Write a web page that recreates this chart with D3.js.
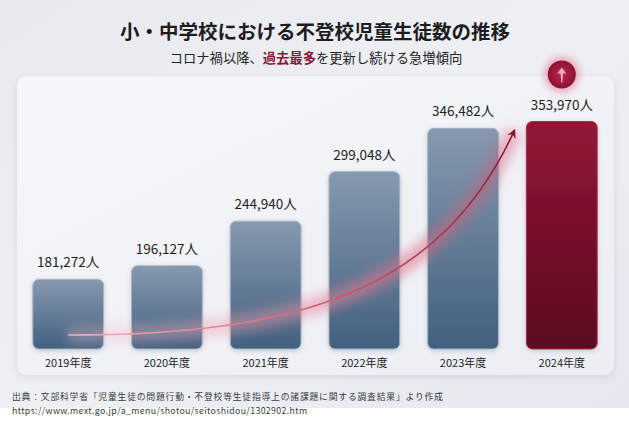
<!DOCTYPE html>
<html><head><meta charset="utf-8">
<script src="https://cdn.jsdelivr.net/npm/d3@7"></script>
<style>
html,body{margin:0;padding:0;background:#fff;}
svg{display:block;}
text{font-family:"Noto Sans CJK JP","Noto Sans",Roboto,sans-serif;}
</style></head>
<body><svg id="c" width="629" height="422"></svg>
<script>
const categories = ["2019年度","2020年度","2021年度","2022年度","2023年度","2024年度"];
const values = [181272,196127,244940,299048,346482,353970];
const valueLabels = ["181,272人","196,127人","244,940人","299,048人","346,482人","353,970人"];
const title = "小・中学校における不登校児童生徒数の推移";
const subtitleParts = [["コロナ禍以降、",false],["過去最多",true],["を更新し続ける急増傾向",false]];
const sourceLines = ["出典：文部科学省「児童生徒の問題行動・不登校等生徒指導上の諸課題に関する調査結果」より作成",
  "https://www.mext.go.jp/a_menu/shotou/seitoshidou/1302902.htm"];

const W=629,H=422;
const svg=d3.select("#c");
const defs=svg.append("defs");

// background gradient
const bg=defs.append("linearGradient").attr("id","bg").attr("x1",0).attr("y1",0).attr("x2",1).attr("y2",1);
bg.append("stop").attr("offset","0%").attr("stop-color","#e9e9ee");
bg.append("stop").attr("offset","50%").attr("stop-color","#eef0f4");
bg.append("stop").attr("offset","100%").attr("stop-color","#e4e7ee");
svg.append("rect").attr("width",W).attr("height",H).attr("fill","url(#bg)");
svg.append("rect").attr("x",0).attr("y",408).attr("width",W).attr("height",H-408).attr("fill","#ffffff");

// panel
const shadow=defs.append("filter").attr("id","sh").attr("x","-10%").attr("y","-10%").attr("width","120%").attr("height","130%");
shadow.append("feDropShadow").attr("dx",0).attr("dy",2).attr("stdDeviation",3).attr("flood-color","#8890a0").attr("flood-opacity",0.25);
const pg=defs.append("linearGradient").attr("id","pg").attr("x1",0).attr("y1",0).attr("x2",1).attr("y2",1);
pg.append("stop").attr("offset","0%").attr("stop-color","#f7f7fa");
pg.append("stop").attr("offset","100%").attr("stop-color","#eceef4");
svg.append("rect").attr("x",17).attr("y",76).attr("width",597).attr("height",299).attr("rx",9)
  .attr("fill","url(#pg)").attr("filter","url(#sh)");

// title
svg.append("text").attr("x",315).attr("y",39).attr("text-anchor","middle")
  .attr("font-size",19.5).attr("font-weight",700).attr("fill","#1d1d1f").text(title);
const st=svg.append("text").attr("x",316).attr("y",63).attr("text-anchor","middle")
  .attr("font-size",13.3).attr("fill","#222");
subtitleParts.forEach(([t,hl])=>{
  st.append("tspan").text(t).attr("fill",hl?"#8e1538":"#222").attr("font-weight",hl?700:400);
});

// scales
const x=d3.scaleBand().domain(categories).range([18,612]).paddingInner(0.283).paddingOuter(0.15);
const y=d3.scaleLinear().domain([105000,360000]).range([349,116]);
const bw=x.bandwidth();

// gradients for bars
const gb=defs.append("linearGradient").attr("id","gb").attr("x1",0).attr("y1",0).attr("x2",0).attr("y2",1);
gb.append("stop").attr("offset","0%").attr("stop-color","#8799af");
gb.append("stop").attr("offset","100%").attr("stop-color","#42607f");
const gr=defs.append("linearGradient").attr("id","gr").attr("x1",0).attr("y1",0).attr("x2",0).attr("y2",1);
gr.append("stop").attr("offset","0%").attr("stop-color","#931636");
gr.append("stop").attr("offset","100%").attr("stop-color","#5a071f");
const bsh=defs.append("filter").attr("id","bsh").attr("x","-20%").attr("y","-10%").attr("width","140%").attr("height","130%");
bsh.append("feDropShadow").attr("dx",0).attr("dy",1.5).attr("stdDeviation",2).attr("flood-color","#40506a").attr("flood-opacity",0.25);

const last=categories.length-1;
svg.append("g").selectAll("rect").data(values).join("rect")
  .attr("x",(d,i)=>x(categories[i])).attr("y",d=>y(d))
  .attr("width",bw).attr("height",d=>y.range()[0]-y(d)).attr("rx",6)
  .attr("fill",(d,i)=>i===last?"url(#gr)":"url(#gb)")
  .attr("stroke",(d,i)=>i===last?"#b02a4c":"#a7b5c6").attr("stroke-width",1)
  .attr("filter","url(#bsh)");

// value labels
svg.append("g").selectAll("text").data(values).join("text")
  .attr("x",(d,i)=>x(categories[i])+bw/2).attr("y",d=>y(d)-12)
  .attr("text-anchor","middle").attr("font-size",13.5).attr("fill","#1e1e1e")
  .attr("font-family","Roboto,'Noto Sans CJK JP',sans-serif")
  .text((d,i)=>valueLabels[i]);

// year labels
svg.append("g").selectAll("text").data(categories).join("text")
  .attr("x",d=>x(d)+bw/2).attr("y",367).attr("text-anchor","middle")
  .attr("font-size",11).attr("fill","#1e1e1e")
  .attr("font-family","Roboto,'Noto Sans CJK JP',sans-serif").text(d=>d);

// trend curve
const x0=x(categories[0])+bw/2, y0=y.range()[0]-14;
const x1=x(categories[last])-12, y1=y(values[last])+9;
const pathD=`M${x0},${y0} C${x0+233},${y0} ${x0+373},${y0-45} ${x1},${y1}`;
const glow=defs.append("filter").attr("id","glow").attr("x","-20%").attr("y","-20%").attr("width","140%").attr("height","140%");
glow.append("feGaussianBlur").attr("stdDeviation",6);
const cg=defs.append("linearGradient").attr("id","cg").attr("gradientUnits","userSpaceOnUse")
  .attr("x1",x0).attr("y1",y0).attr("x2",x1).attr("y2",y1);
cg.append("stop").attr("offset","0%").attr("stop-color","#f0b3bd");
cg.append("stop").attr("offset","55%").attr("stop-color","#c9566e");
cg.append("stop").attr("offset","100%").attr("stop-color","#8d1232");
const gg=defs.append("linearGradient").attr("id","gg").attr("gradientUnits","userSpaceOnUse")
  .attr("x1",x0).attr("y1",y0).attr("x2",x1).attr("y2",y1);
gg.append("stop").attr("offset","0%").attr("stop-color","#f4c4cc").attr("stop-opacity",0.3);
gg.append("stop").attr("offset","60%").attr("stop-color","#e07890").attr("stop-opacity",0.6);
gg.append("stop").attr("offset","100%").attr("stop-color","#d05070").attr("stop-opacity",0.4);
svg.append("path").attr("d",pathD).attr("fill","none").attr("stroke","url(#gg)")
  .attr("stroke-width",18).attr("filter","url(#glow)");
const mk=defs.append("marker").attr("id","ah").attr("viewBox","0 0 10 10").attr("refX",8).attr("refY",5)
  .attr("markerWidth",9).attr("markerHeight",9).attr("markerUnits","userSpaceOnUse").attr("orient","auto");
mk.append("path").attr("d","M0,0 L10,5 L0,10 L3,5 Z").attr("fill","#8d1232");
svg.append("path").attr("d",pathD).attr("fill","none").attr("stroke","url(#cg)")
  .attr("stroke-width",1.6).attr("marker-end","url(#ah)");

// badge above last bar
const cx=x(categories[last])+bw/2, cy=y(values[last])-47;
const rg=defs.append("radialGradient").attr("id","rg");
rg.append("stop").attr("offset","0%").attr("stop-color","#b8294f");
rg.append("stop").attr("offset","100%").attr("stop-color","#8c1133");
const bglow=defs.append("filter").attr("id","bglow").attr("x","-100%").attr("y","-100%").attr("width","300%").attr("height","300%");
bglow.append("feGaussianBlur").attr("stdDeviation",4);
svg.append("circle").attr("cx",cx).attr("cy",cy).attr("r",17).attr("fill","#e0607f").attr("opacity",0.6).attr("filter","url(#bglow)");
svg.append("circle").attr("cx",cx).attr("cy",cy).attr("r",14).attr("fill","url(#rg)");
svg.append("path").attr("d",`M${cx},${cy-7} L${cx+4.5},${cy-1} L${cx+1.2},${cy-1} L${cx+0.6},${cy+8} L${cx-0.6},${cy+8} L${cx-1.2},${cy-1} L${cx-4.5},${cy-1} Z`)
  .attr("fill","#f7a9b8");

// source
svg.append("g").selectAll("text").data(sourceLines).join("text")
  .attr("x",12).attr("y",(d,i)=>400+i*13.5).attr("font-size",8.8).attr("fill","#3a3a3a")
  .attr("letter-spacing",(d,i)=>i===1?0.35:0.8)
  .attr("font-family",(d,i)=>i===1?"Roboto,sans-serif":"'Noto Sans CJK JP',sans-serif")
  .text(d=>d);
</script></body></html>
